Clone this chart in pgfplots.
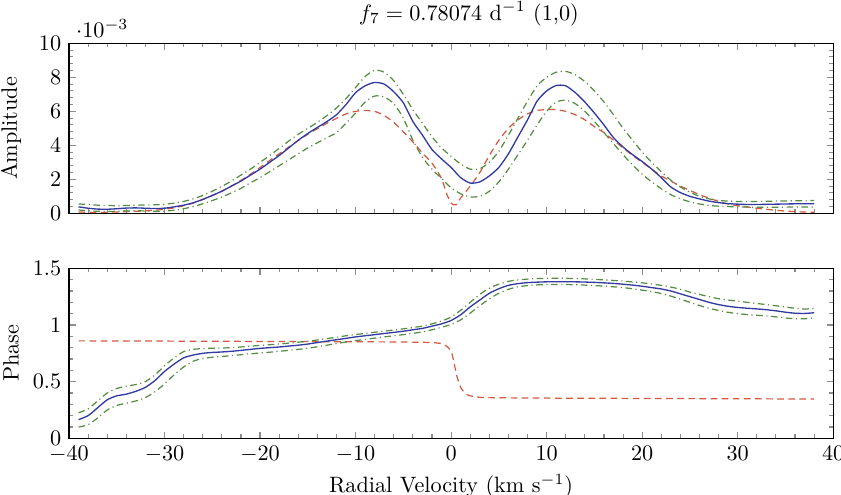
\documentclass[border=0pt]{standalone}
\usepackage{pgfplots}
\pgfplotsset{compat=1.18}
\usepackage{pgfplotstable}
\definecolor{cblue}{RGB}{50,60,160}
\definecolor{cred}{RGB}{212,88,66}
\definecolor{cgreen}{RGB}{85,140,65}

% Amplitude (units of 1e-3)
\pgfplotstableread{
x b
-39 0.38
-38 0.30
-37 0.25
-36 0.24
-35 0.27
-34 0.31
-33 0.32
-32 0.30
-31 0.28
-30 0.30
-29 0.38
-28 0.48
-27 0.62
-26 0.82
-25 1.05
-24 1.30
-23 1.60
-22 1.90
-21 2.25
-20 2.60
-19 3.00
-18 3.40
-17 3.85
-16 4.30
-15 4.70
-14 5.05
-13 5.40
-12 5.80
-11 6.40
-10 7.10
-9 7.50
-8 7.70
-7 7.60
-6 7.15
-5 6.50
-4 5.40
-3 4.60
-2 3.75
-1 3.20
0 2.70
1 2.10
2 1.78
3 1.85
4 2.20
5 2.70
6 3.50
7 4.50
8 5.50
9 6.60
10 7.20
11 7.52
12 7.50
13 7.10
14 6.55
15 5.90
16 5.20
17 4.45
18 3.90
19 3.45
20 3.05
21 2.60
22 2.10
23 1.55
24 1.22
25 1.00
26 0.85
27 0.72
28 0.63
29 0.57
30 0.54
31 0.52
32 0.52
33 0.53
34 0.54
35 0.55
36 0.56
37 0.56
38 0.57
}\ampblue

\pgfplotstableread{
x r
-39 0.08
-37 0.05
-35 0.08
-33 0.12
-31 0.18
-29 0.32
-27 0.60
-25 1.05
-23 1.60
-21 2.30
-19 3.10
-17 3.90
-15 4.65
-13 5.30
-11 5.85
-10 6.00
-9 6.05
-8 6.00
-7 5.75
-6 5.35
-5 4.80
-4 4.20
-3 3.55
-2 2.95
-1 2.05
-0.5 1.20
0 0.60
0.5 0.50
1 0.90
2 1.60
3 2.40
4 3.40
5 4.30
6 5.00
7 5.50
8 5.85
9 6.05
10 6.10
11 6.10
12 6.00
13 5.80
14 5.50
15 5.10
16 4.75
17 4.30
18 3.85
19 3.40
20 3.00
21 2.60
22 2.20
23 1.90
24 1.60
25 1.35
26 1.10
27 0.90
28 0.70
29 0.55
30 0.45
32 0.30
34 0.18
36 0.10
38 0.06
}\ampred

\pgfplotstableread{
x u
-39 0.55
-38 0.52
-37 0.48
-36 0.46
-35 0.45
-34 0.46
-33 0.48
-32 0.49
-31 0.50
-30 0.53
-29 0.60
-28 0.70
-27 0.85
-26 1.05
-25 1.30
-24 1.58
-23 1.90
-22 2.25
-21 2.60
-20 3.00
-19 3.40
-18 3.82
-17 4.25
-16 4.65
-15 5.00
-14 5.35
-13 5.75
-12 6.20
-11 6.75
-10 7.40
-9 8.05
-8 8.42
-7 8.30
-6 7.80
-5 7.00
-4 6.10
-3 5.30
-2 4.50
-1 3.85
0 3.35
1 2.90
2 2.60
3 2.62
4 3.00
5 3.65
6 4.60
7 5.60
8 6.60
9 7.50
10 8.00
11 8.30
12 8.35
13 8.15
14 7.75
15 7.20
16 6.55
17 5.80
18 5.00
19 4.30
20 3.60
21 3.00
22 2.45
23 1.95
24 1.55
25 1.25
26 1.00
27 0.85
28 0.76
29 0.72
30 0.70
32 0.70
34 0.72
36 0.74
38 0.75
}\ampup

\pgfplotstableread{
x l
-39 0.20
-38 0.15
-37 0.12
-36 0.11
-35 0.12
-34 0.14
-33 0.15
-32 0.14
-31 0.12
-30 0.13
-29 0.18
-28 0.27
-27 0.40
-26 0.56
-25 0.75
-24 0.96
-23 1.20
-22 1.47
-21 1.80
-20 2.10
-19 2.45
-18 2.80
-17 3.15
-16 3.50
-15 3.85
-14 4.15
-13 4.45
-12 4.75
-11 5.30
-10 5.90
-9 6.55
-8 6.90
-7 6.85
-6 6.45
-5 5.60
-4 4.30
-3 3.30
-2 2.60
-1 2.05
0 1.50
1 1.15
2 0.97
3 1.00
4 1.30
5 1.85
6 2.60
7 3.45
8 4.30
9 5.20
10 6.00
11 6.55
12 6.65
13 6.45
14 6.00
15 5.40
16 4.75
17 4.10
18 3.45
19 2.85
20 2.30
21 1.85
22 1.45
23 1.10
24 0.85
25 0.68
26 0.55
27 0.47
28 0.42
30 0.38
32 0.36
34 0.36
36 0.37
38 0.38
}\amplow

% Phase
\pgfplotstableread{
x b u l
-39 0.165 0.225 0.100
-38 0.200 0.260 0.120
-37 0.270 0.330 0.180
-36 0.340 0.400 0.250
-35 0.375 0.440 0.290
-34 0.390 0.460 0.310
-33 0.415 0.475 0.330
-32 0.450 0.500 0.360
-31 0.510 0.560 0.410
-30 0.590 0.640 0.480
-29 0.655 0.710 0.560
-28 0.710 0.765 0.630
-27 0.735 0.785 0.680
-26 0.750 0.792 0.705
-25 0.758 0.795 0.715
-24 0.762 0.797 0.722
-23 0.768 0.800 0.730
-22 0.776 0.806 0.738
-21 0.785 0.813 0.746
-20 0.794 0.820 0.753
-19 0.800 0.826 0.760
-18 0.806 0.832 0.768
-17 0.814 0.840 0.776
-16 0.822 0.848 0.785
-15 0.832 0.857 0.795
-14 0.845 0.868 0.808
-13 0.858 0.880 0.822
-12 0.870 0.892 0.836
-11 0.882 0.905 0.850
-10 0.895 0.916 0.862
-9 0.905 0.926 0.873
-8 0.915 0.936 0.884
-7 0.925 0.946 0.895
-6 0.935 0.956 0.905
-5 0.945 0.966 0.915
-4 0.958 0.978 0.926
-3 0.970 0.990 0.940
-2 0.990 1.010 0.958
-1 1.010 1.035 0.980
0 1.040 1.070 1.005
1 1.090 1.130 1.045
2 1.160 1.200 1.105
3 1.220 1.270 1.170
4 1.280 1.325 1.230
5 1.320 1.360 1.280
6 1.350 1.385 1.315
7 1.365 1.398 1.337
8 1.374 1.405 1.348
9 1.378 1.410 1.354
10 1.381 1.412 1.357
11 1.382 1.413 1.358
12 1.382 1.412 1.357
13 1.381 1.410 1.355
14 1.379 1.407 1.352
15 1.376 1.403 1.348
16 1.372 1.398 1.343
17 1.367 1.393 1.337
18 1.360 1.387 1.330
19 1.352 1.380 1.320
20 1.342 1.372 1.308
21 1.330 1.362 1.295
22 1.318 1.350 1.278
23 1.300 1.335 1.255
24 1.275 1.315 1.228
25 1.250 1.290 1.200
26 1.225 1.270 1.172
27 1.200 1.250 1.148
28 1.180 1.232 1.128
29 1.165 1.220 1.112
30 1.155 1.210 1.100
31 1.148 1.200 1.092
32 1.142 1.190 1.086
33 1.135 1.180 1.080
34 1.125 1.170 1.072
35 1.113 1.158 1.062
36 1.104 1.148 1.055
37 1.102 1.140 1.055
38 1.108 1.148 1.062
}\phase

\pgfplotstableread{
x r
-39 0.860
-30 0.858
-20 0.855
-10 0.852
-5 0.850
-2 0.845
-1 0.835
-0.5 0.815
0 0.770
0.3 0.670
0.6 0.550
1 0.450
1.5 0.395
2 0.375
3 0.362
5 0.358
10 0.355
20 0.352
30 0.349
38 0.347
}\phasered

\pgfplotsset{
  common/.style={
    width=343.9pt, height=76.5pt, scale only axis,
    xmin=-40, xmax=40,
    xtick={-40,-30,...,40},
    minor x tick num=4,
    tick align=inside,
    major tick length=3pt, minor tick length=1.8pt,
    every tick/.style={black!45, line width=0.5pt},
    axis line style={black, line width=0.6pt},
  },
  bl/.style={cblue, line width=0.6pt, smooth, tension=0.4, no markers},
  rd/.style={cred, line width=0.55pt, dash pattern=on 3pt off 2pt, smooth, tension=0.4, no markers},
  gr/.style={cgreen, line width=0.55pt, dash pattern=on 3pt off 1.6pt on 0.5pt off 1.6pt, smooth, tension=0.4, no markers},
}

\begin{document}
\begin{tikzpicture}
\begin{axis}[common,
  at={(0,0)}, anchor=north west,
  ymin=0, ymax=10,
  ytick={0,2,...,10},
  minor y tick num=4,
  xticklabels={},
  scaled y ticks=manual:{$\cdot 10^{-3}$}{\pgfmathparse{#1}},
  ylabel={Amplitude},
  every axis y label/.style={at={(axis description cs:-0.0759,0.5)}, rotate=90, anchor=center},
  title={$f_7 = 0.78074$ d$^{-1}$ (1,0)},
  every axis title/.style={at={(axis description cs:0.5,1)}, anchor=base, yshift=10.5pt, xshift=8pt},
]
\addplot[rd] table[x=x, y=r] {\ampred};
\addplot[gr] table[x=x, y=u] {\ampup};
\addplot[gr] table[x=x, y=l] {\amplow};
\addplot[bl] table[x=x, y=b] {\ampblue};
\end{axis}

\begin{axis}[common,
  at={(0,-101.25pt)}, anchor=north west,
  ymin=0, ymax=1.5,
  ytick={0,0.5,1,1.5},
  minor y tick num=4,
  ylabel={Phase},
  every axis y label/.style={at={(axis description cs:-0.0759,0.5)}, rotate=90, anchor=center},
  xlabel={Radial Velocity (km s$^{-1}$)},
  every axis x label/.style={at={(axis description cs:0.5,-0.166)}, anchor=north},
]
\addplot[rd] table[x=x, y=r] {\phasered};
\addplot[gr] table[x=x, y=u] {\phase};
\addplot[gr] table[x=x, y=l] {\phase};
\addplot[bl] table[x=x, y=b] {\phase};
\end{axis}
\pgfresetboundingbox
\path[use as bounding box] (-31.05pt,19.5pt) rectangle (347.4pt,-202.85pt);
\end{tikzpicture}
\end{document}
